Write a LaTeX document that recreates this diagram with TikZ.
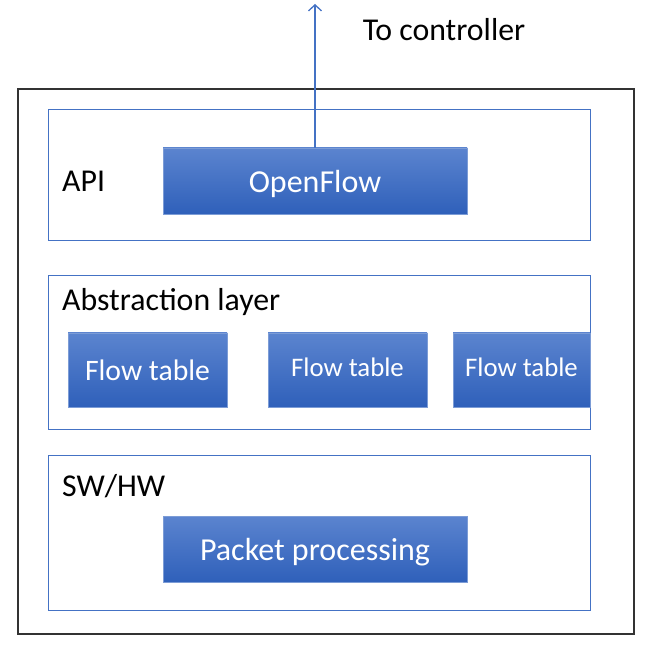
\documentclass[tikz,border=0pt]{standalone}
\usepackage{fontspec}
\setmainfont{Carlito}
\usetikzlibrary{arrows.meta}
\definecolor{lineblue}{HTML}{4472C4}
\definecolor{topblue}{HTML}{5B84CF}
\definecolor{botblue}{HTML}{2F60BA}
\tikzset{
  layerbox/.style={draw=lineblue, line width=1pt, inner sep=0pt, fill=white},
  bluebox/.style={draw=lineblue!70, line width=0.6pt, top color=topblue, bottom color=botblue, text=white, inner sep=0pt, font=\fontsize{32}{38}\selectfont},
  lbl/.style={anchor=west, inner sep=0pt, font=\fontsize{31.8}{38}\selectfont},
  outerbox/.style={draw=black!80, line width=1.3pt, inner sep=0pt},
  upar/.style={draw=lineblue, line width=1.5pt, -{Straight Barb[length=6pt,width=13pt,line width=1.3pt]}}
}
\newcommand{\shiftv}[2]{\raisebox{#1}[\height][\depth]{#2}}
\begin{document}
\begin{tikzpicture}[x=1pt,y=-1pt]
\useasboundingbox (0,0) rectangle (662,652);
\node[outerbox, minimum width=616pt, minimum height=545pt] (outer) at (326,361.5) {};
% API layer
\node[layerbox, minimum width=542pt, minimum height=131pt] (api) at (319,175.5) {};
\node[lbl] (apilbl) at (62,181) {API};
\node[bluebox, minimum width=304pt, minimum height=66pt] (of) at (315,181) {\shiftv{-3pt}{OpenFlow}};
% Abstraction layer
\node[layerbox, minimum width=542pt, minimum height=154pt] (abs) at (319,353) {};
\node[lbl] (abslbl) at (62,302) {Abstraction layer};
\node[bluebox, minimum width=159pt, minimum height=74pt, font=\fontsize{29.7}{34}\selectfont] (ft1) at (147.5,370) {Flow table};
\node[bluebox, minimum width=159pt, minimum height=74pt, font=\fontsize{26.8}{31}\selectfont] (ft2) at (347.5,370) {\shiftv{3pt}{Flow table}};
\node[bluebox, minimum width=137pt, minimum height=74pt, font=\fontsize{26.8}{31}\selectfont] (ft3) at (521.5,370) {\shiftv{3pt}{Flow table}};
% SW/HW layer
\node[layerbox, minimum width=542pt, minimum height=154pt] (sw) at (319,533) {};
\node[lbl] (swlbl) at (62,486) {SW/HW};
\node[bluebox, minimum width=304pt, minimum height=66pt] (pp) at (315,549) {\shiftv{-3pt}{Packet processing}};
% arrow to controller
\coordinate (ctrl) at (315,4);
\draw[upar] (of.north) -- (ctrl);
\node[inner sep=0pt, font=\fontsize{31.8}{38}\selectfont] (tolbl) at (444,30) {To controller};
\end{tikzpicture}
\end{document}
